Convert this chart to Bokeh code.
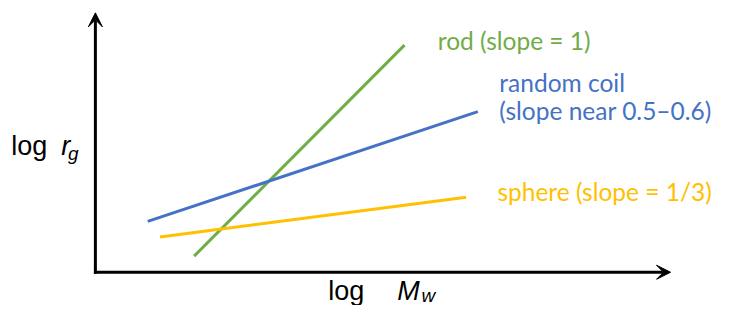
from bokeh.plotting import figure
from bokeh.models import Arrow, VeeHead, ColumnDataSource, Range1d
from bokeh.core.properties import value
from bokeh.embed import file_html
from bokeh.resources import INLINE

# Data (arbitrary log units)
rod_x = [2.02, 6.32]
rod_y = [0.34, 4.78]
coil_x = [1.07, 7.82]
coil_y = [1.07, 3.38]
sphere_x = [1.32, 7.58]
sphere_y = [0.74, 1.58]

labels = ["rod (slope = 1)", "random coil", "(slope near 0.5\u20130.6)", "sphere (slope = 1/3)"]
label_x = [7.0, 8.26, 8.26, 8.22]
label_y = [4.88, 4.00, 3.40, 1.70]
label_colors = ["#70AD47", "#4472C4", "#4472C4", "#FFC000"]

x_axis_end = 11.76
y_axis_end = 5.46

p = figure(width=717, height=305, output_backend="svg", toolbar_location=None,
           x_range=Range1d(-1.94, 12.72), y_range=Range1d(-0.70, 5.72),
           min_border=0, outline_line_color=None)
p.axis.visible = False
p.grid.visible = False

p.line(rod_x, rod_y, line_color="#70AD47", line_width=3)
p.line(coil_x, coil_y, line_color="#4472C4", line_width=3)
p.line(sphere_x, sphere_y, line_color="#FFC000", line_width=3)

# axes with arrows
p.add_layout(Arrow(x_start=0, y_start=-0.03, x_end=0, y_end=y_axis_end, line_width=3, line_color="black",
                   end=VeeHead(size=14, line_color="black", fill_color="black", line_width=1)))
p.add_layout(Arrow(x_start=-0.03, y_start=0, x_end=x_axis_end, y_end=0, line_width=3, line_color="black",
                   end=VeeHead(size=14, line_color="black", fill_color="black", line_width=1)))

src = ColumnDataSource(dict(x=label_x, y=label_y, t=labels, c=label_colors))
p.text(x="x", y="y", text="t", text_color="c", source=src, text_font=value("Lato"),
       text_font_size="24.5px", text_baseline="alphabetic", text_align="left")

# axis titles
ylab_x = [-1.72, -0.70, -0.56]
ylab_y = [2.66, 2.66, 2.50]
ylab_t = ["log", "r", "g"]
p.text(x=ylab_x[:1], y=ylab_y[:1], text=ylab_t[:1], text_font=value("Liberation Sans"),
       text_font_size="27px", text_baseline="alphabetic", text_color="black")
p.text(x=ylab_x[1:2], y=ylab_y[1:2], text=ylab_t[1:2], text_font=value("Liberation Sans"),
       text_font_size="27px", text_font_style="italic", text_baseline="alphabetic", text_color="black")
p.text(x=ylab_x[2:], y=ylab_y[2:], text=ylab_t[2:], text_font=value("Liberation Sans"),
       text_font_size="19px", text_font_style="italic", text_baseline="alphabetic", text_color="black")

xlab_x = [4.76, 6.17, 6.67]
xlab_y = [-0.39, -0.39, -0.49]
xlab_t = ["log", "M", "w"]
p.text(x=xlab_x[:1], y=xlab_y[:1], text=xlab_t[:1], text_font=value("Liberation Sans"),
       text_font_size="27px", text_baseline="alphabetic", text_color="black")
p.text(x=xlab_x[1:2], y=xlab_y[1:2], text=xlab_t[1:2], text_font=value("Liberation Sans"),
       text_font_size="27px", text_font_style="italic", text_baseline="alphabetic", text_color="black")
p.text(x=xlab_x[2:], y=xlab_y[2:], text=xlab_t[2:], text_font=value("Liberation Sans"),
       text_font_size="19px", text_font_style="italic", text_baseline="alphabetic", text_color="black")

open("out.html", "w").write(file_html(p, INLINE))
